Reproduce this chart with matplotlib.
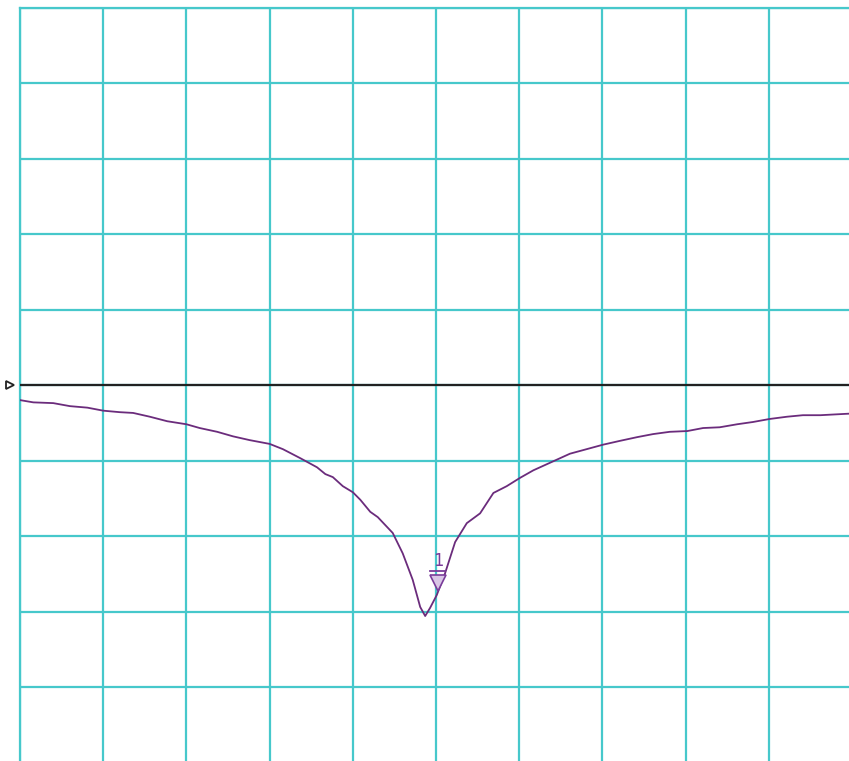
import matplotlib
matplotlib.use("Agg")
import matplotlib.pyplot as plt

# trace, in graticule divisions (x: 0..10, y: 0..10, ref at 5)
trace_x = [0.0, 0.16, 0.40, 0.60, 0.81, 1.0, 1.20, 1.36, 1.56, 1.77, 2.0, 2.16, 2.37,
           2.56, 2.76, 3.0, 3.16, 3.37, 3.57, 3.67, 3.76, 3.88, 4.00, 4.09, 4.21, 4.30,
           4.48, 4.60, 4.72, 4.81, 4.87, 4.93, 5.01, 5.11, 5.23, 5.37, 5.53, 5.69, 5.85,
           6.01, 6.17, 6.41, 6.61, 6.81, 7.01, 7.21, 7.42, 7.61, 7.81, 8.02, 8.21, 8.41,
           8.62, 8.81, 9.01, 9.22, 9.41, 9.62, 9.96, 10.0]
trace_y = [4.80, 4.77, 4.76, 4.72, 4.70, 4.66, 4.64, 4.63, 4.58, 4.52, 4.48, 4.43, 4.38,
           4.32, 4.27, 4.22, 4.15, 4.03, 3.91, 3.82, 3.78, 3.66, 3.58, 3.48, 3.32, 3.25,
           3.04, 2.77, 2.42, 2.06, 1.94, 2.05, 2.22, 2.51, 2.92, 3.17, 3.30, 3.57, 3.66,
           3.77, 3.87, 3.99, 4.09, 4.15, 4.21, 4.26, 4.31, 4.35, 4.38, 4.39, 4.43, 4.44,
           4.48, 4.51, 4.55, 4.58, 4.60, 4.60, 4.62, 4.62]

ref_level = 5.0
marker_x, marker_y = 5.0, 2.22
n_div = 10

grid_col = '#46c8cb'
trace_col = '#6b2c7c'
mark_col = '#7a3c9a'

fig = plt.figure(figsize=(8.49, 7.61), dpi=100)
ax = fig.add_axes([20 / 849, -1.5 / 761, 832 / 849, 755 / 761])
ax.set_xlim(0, n_div)
ax.set_ylim(0, n_div)
ax.set_xticks(range(n_div + 1))
ax.set_yticks(range(n_div + 1))
ax.tick_params(length=0, labelbottom=False, labelleft=False)
ax.grid(True, color=grid_col, lw=1.6)
for s in ax.spines.values():
    s.set_color(grid_col)
    s.set_linewidth(1.6)

# reference line + reference arrow on the left edge
ax.axhline(ref_level, color='#222222', lw=1.6, zorder=3)
ax.plot([-0.12], [ref_level], marker='>', ms=6, mfc='white', mec='#222222',
        mew=1.3, clip_on=False, zorder=4)

ax.plot(trace_x, trace_y, color=trace_col, lw=1.3, zorder=4)

# marker 1: number, bar, open triangle pointing at the trace
ax.plot([marker_x + 0.02], [marker_y + 0.16], marker='v', ms=11, mfc='#d9c6e6',
        mec=mark_col, mew=1.2, zorder=5)
ax.plot([marker_x - 0.07, marker_x + 0.11], [marker_y + 0.32] * 2, color=mark_col,
        lw=1.3, zorder=5)
ax.text(marker_x + 0.02, marker_y + 0.33, '1', color=mark_col, fontsize=12,
        ha='center', va='bottom', family='DejaVu Sans Mono', zorder=5)

fig.savefig('out.png', dpi=100)
